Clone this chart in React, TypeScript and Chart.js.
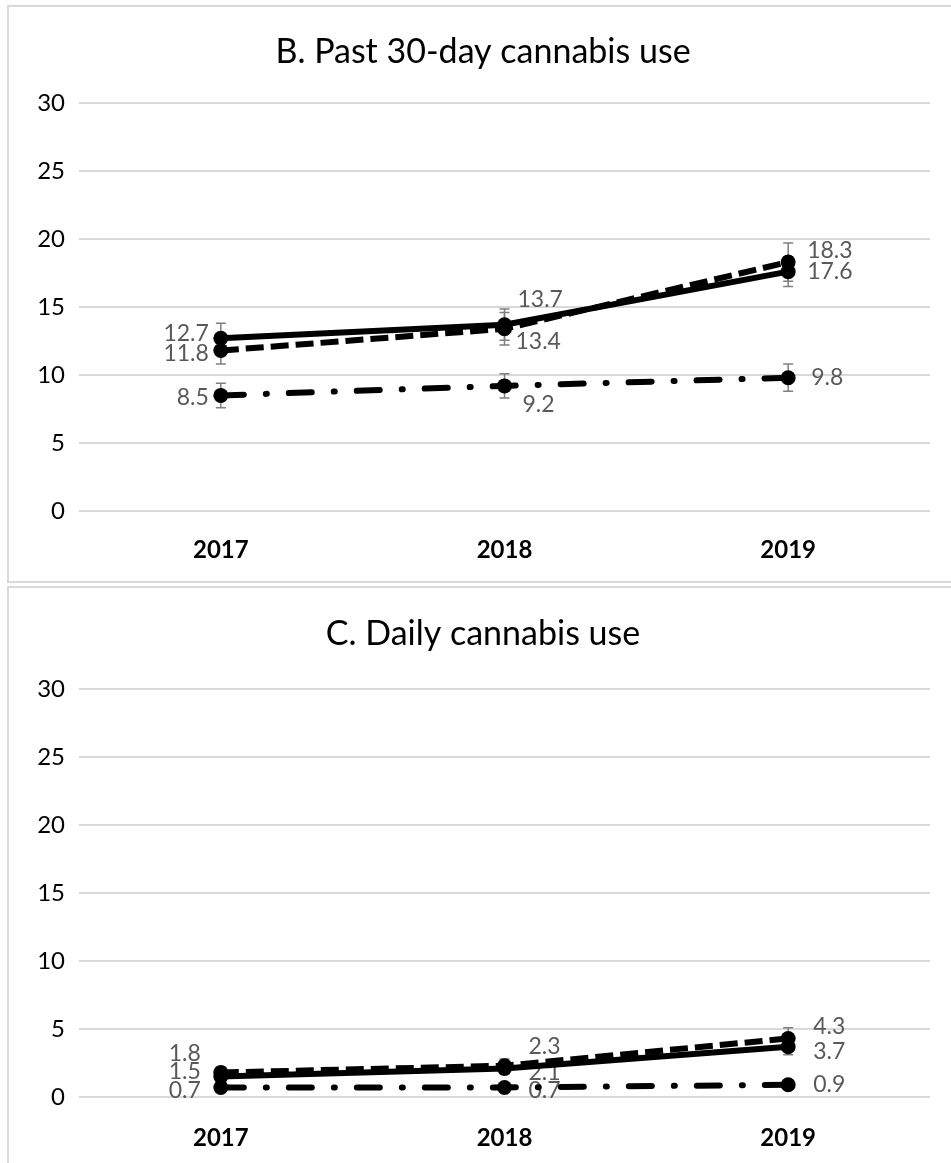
import React, { useEffect, useRef } from "react";
import { Chart, registerables } from "chart.js";

Chart.register(...registerables);

// ---- data ----
const years = ["2017", "2018", "2019"];
const yTickValues = [0, 5, 10, 15, 20, 25, 30];

const titleB = "B. Past 30-day cannabis use";
const pastMonthSolid = [12.7, 13.7, 17.6];
const pastMonthDashed = [11.8, 13.4, 18.3];
const pastMonthDashDot = [8.5, 9.2, 9.8];
const pastMonthSolidErr = [1.1, 1.15, 1.1];
const pastMonthDashedErr = [1.0, 1.2, 1.4];
const pastMonthDashDotErr = [0.9, 0.9, 1.0];

const titleC = "C. Daily cannabis use";
const dailySolid = [1.5, 2.1, 3.7];
const dailyDashed = [1.8, 2.3, 4.3];
const dailyDashDot = [0.7, 0.7, 0.9];
const dailySolidErr = [0.4, 0.4, 0.6];
const dailyDashedErr = [0.4, 0.5, 0.8];
const dailyDashDotErr = [0.2, 0.2, 0.3];

// ---- styles ----
const FONT = "Lato, 'Open Sans', sans-serif";
type Align = "left" | "right" | "center";
type LabelPos = [number, number, Align];

const labelPosB: LabelPos[][] = [
  // dashed
  [[-12, 3, "right"], [11, 13, "left"], [19, -12, "left"]],
  // solid
  [[-12, -5, "right"], [13, -25, "left"], [19, 0, "left"]],
  // dash-dot
  [[-12, 2, "right"], [18, 19, "left"], [23, 0, "left"]],
];
const labelPosC: LabelPos[][] = [
  [[-20, -19, "right"], [24, -19, "left"], [25, -12, "left"]],
  [[-20, -5, "right"], [24, 4, "left"], [25, 5, "left"]],
  [[-20, 3, "right"], [24, 3, "left"], [25, 0, "left"]],
];
const TITLE_CENTER = 474;

const overlayPlugin = {
  id: "overlay",
  afterLayout(chart: any) {
    const t = chart.titleBlock;
    if (t) {
      t.left = 0;
      t.right = TITLE_CENTER * 2;
      t.width = t.right - t.left;
    }
  },
  beforeDatasetsDraw(chart: any, _args: any, opts: any) {
    const ctx: CanvasRenderingContext2D = chart.ctx;
    const yScale = chart.scales.y;
    ctx.save();
    chart.data.datasets.forEach((ds: any, i: number) => {
      const meta = chart.getDatasetMeta(i);
      const errs: number[] = opts.errors[i];
      const pos: LabelPos[] = opts.labels[i];
      meta.data.forEach((pt: any, j: number) => {
        const v = ds.data[j] as number;
        const e = errs[j];
        const yt = yScale.getPixelForValue(v + e);
        const yb = yScale.getPixelForValue(v - e);
        ctx.strokeStyle = "#7f7f7f";
        ctx.lineWidth = 1.5;
        ctx.setLineDash([]);
        ctx.beginPath();
        ctx.moveTo(pt.x, yt);
        ctx.lineTo(pt.x, yb);
        ctx.moveTo(pt.x - 5, yt);
        ctx.lineTo(pt.x + 5, yt);
        ctx.moveTo(pt.x - 5, yb);
        ctx.lineTo(pt.x + 5, yb);
        ctx.stroke();
        const [dx, dy, align] = pos[j];
        ctx.fillStyle = "#595959";
        ctx.font = `23px ${FONT}`;
        ctx.textAlign = align;
        ctx.textBaseline = "middle";
        ctx.fillText(v.toFixed(1), pt.x + dx, pt.y + dy);
      });
    });
    ctx.restore();
  },
};

type PanelProps = {
  title: string;
  solid: number[];
  dashed: number[];
  dashDot: number[];
  errors: number[][];
  labels: LabelPos[][];
  top: number;
  height: number;
  titleTop: number;
  titleBottom: number;
  xPad: number;
  xHeight: number;
};

function Panel(p: PanelProps) {
  const ref = useRef<HTMLCanvasElement | null>(null);
  useEffect(() => {
    if (!ref.current) return;
    const line = (data: number[], dash: number[], cap: CanvasLineCap) => ({
      data,
      borderColor: "#000",
      backgroundColor: "#000",
      borderWidth: 6,
      borderDash: dash,
      borderCapStyle: cap,
      pointRadius: 7.5,
      pointBackgroundColor: "#000",
      pointBorderColor: "#000",
      pointBorderWidth: 0,
      tension: 0,
      fill: false,
    });
    const chart = new Chart(ref.current, {
      type: "line",
      data: {
        labels: years,
        datasets: [
          line(p.dashed, [18, 7], "butt"),
          line(p.solid, [], "butt"),
          line(p.dashDot, [23, 22, 1, 22], "round"),
        ],
      },
      options: {
        animation: false,
        responsive: false,
        devicePixelRatio: 1,
        layout: { padding: { left: 0, right: 25, top: 0, bottom: 0 } },
        plugins: {
          legend: { display: false },
          tooltip: { enabled: false },
          title: {
            display: true,
            text: p.title,
            color: "#000",
            font: { family: FONT, size: 34, weight: "normal", lineHeight: 1.2 },
            padding: { top: p.titleTop, bottom: p.titleBottom },
          },
          overlay: { errors: p.errors, labels: p.labels },
        } as any,
        scales: {
          x: {
            offset: true,
            grid: { display: false, drawTicks: false },
            border: { display: false },
            ticks: {
              color: "#000",
              font: { family: FONT, size: 24, weight: "bold" },
              padding: p.xPad,
            },
            afterFit: (s: any) => {
              s.height = p.xHeight;
            },
          },
          y: {
            min: 0,
            max: 30,
            afterBuildTicks: (s: any) => {
              s.ticks = yTickValues.map((v) => ({ value: v }));
            },
            grid: { color: "#d9d9d9", lineWidth: 2, drawTicks: false },
            border: { display: false },
            ticks: {
              color: "#000",
              font: { family: FONT, size: 24 },
              padding: 14,
            },
            afterFit: (s: any) => {
              s.width = 70;
            },
          },
        },
      },
      plugins: [overlayPlugin],
    });
    return () => chart.destroy();
  }, []);
  return (
    <div
      style={{
        position: "absolute",
        left: 7,
        top: p.top,
        width: 950,
        height: p.height + 4,
        border: "2px solid #d9d9d9",
        boxSizing: "border-box",
        background: "#fff",
      }}
    >
      <canvas ref={ref} width={946} height={p.height} style={{ display: "block" }} />
    </div>
  );
}

export default function App() {
  return (
    <div
      style={{
        position: "fixed",
        left: 0,
        top: 0,
        width: 951,
        height: 1163,
        overflow: "hidden",
        background: "#fff",
      }}
    >
      <Panel
        title={titleB}
        solid={pastMonthSolid}
        dashed={pastMonthDashed}
        dashDot={pastMonthDashDot}
        errors={[pastMonthDashedErr, pastMonthSolidErr, pastMonthDashDotErr]}
        labels={labelPosB}
        top={5}
        height={574}
        titleTop={24.6}
        titleBottom={30.6}
        xPad={25}
        xHeight={70}
      />
      <Panel
        title={titleC}
        solid={dailySolid}
        dashed={dailyDashed}
        dashDot={dailyDashDot}
        errors={[dailyDashedErr, dailySolidErr, dailyDashDotErr]}
        labels={labelPosC}
        top={586}
        height={577}
        titleTop={25.6}
        titleBottom={34.6}
        xPad={27}
        xHeight={68}
      />
    </div>
  );
}
